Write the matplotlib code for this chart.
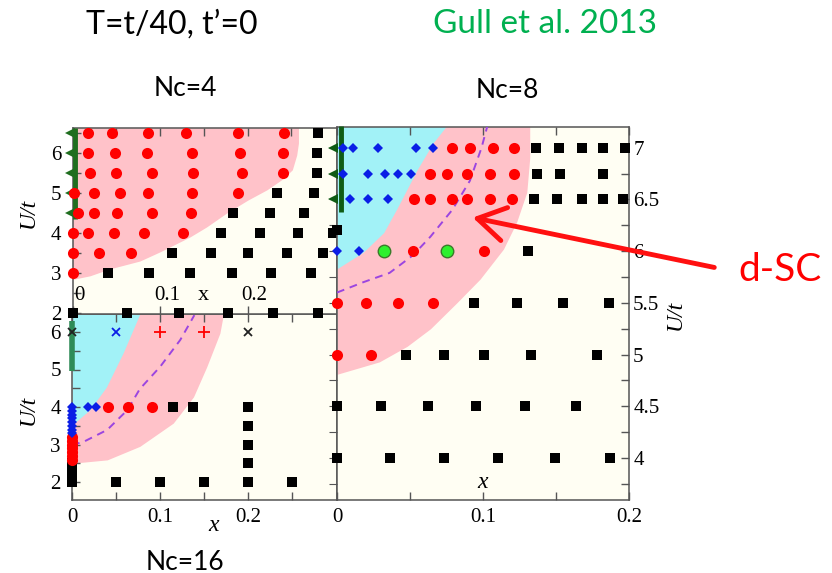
import numpy as np
import matplotlib.pyplot as plt
from matplotlib.patches import FancyArrowPatch
from matplotlib.ticker import MultipleLocator, FixedLocator, FuncFormatter, NullFormatter

W, H = 832, 573

# ---------- Nc=4 (upper left) ----------
nc4_sc_x = [0.018, 0.045, 0.086, 0.130, 0.189, 0.242,
            0.018, 0.048, 0.085, 0.136, 0.191, 0.240,
            0.020, 0.050, 0.091, 0.138, 0.193, 0.240,
            0.002, 0.025, 0.054, 0.086, 0.136, 0.189,
            0.006, 0.024, 0.051, 0.091, 0.135,
            0.0, 0.018, 0.047, 0.082, 0.126,
            0.0, 0.030, 0.067,
            0.0]
nc4_sc_u = [6.5] * 6 + [6.0] * 6 + [5.5] * 6 + [5.0] * 6 + [4.5] * 5 + [4.0] * 5 + [3.5] * 3 + [3.0]
nc4_n_x = [0.280, 0.279, 0.279,
           0.233, 0.276,
           0.183, 0.225, 0.264,
           0.169, 0.214, 0.257, 0.297,
           0.114, 0.158, 0.200, 0.245, 0.286,
           0.041, 0.087, 0.134, 0.182, 0.227, 0.272,
           0.0, 0.062, 0.122, 0.177, 0.229, 0.280]
nc4_n_u = [6.5, 6.0, 5.5] + [5.0] * 2 + [4.5] * 3 + [4.0] * 4 + [3.5] * 5 + [3.0] * 6 + [2.0] * 6
nc4_afm_u = [4.5, 5.0, 5.5, 6.0, 6.5]
nc4_afm_band = (4.35, 6.63)
nc4_sc_edge_x = [0.0, 0.02, 0.042, 0.077, 0.10, 0.134, 0.153, 0.176, 0.20, 0.222, 0.240, 0.251, 0.256, 0.258, 0.258]
nc4_sc_edge_u = [2.84, 2.93, 3.10, 3.30, 3.53, 3.90, 4.15, 4.50, 4.82, 5.08, 5.35, 5.58, 5.95, 6.25, 6.63]
nc4_inner_ticks = [0.0, 0.1, 0.2]

# ---------- Nc=16 (lower left) ----------
nc16_sc_x = [0.041, 0.064, 0.091] + [0.0] * 7
nc16_sc_u = [4.0, 4.0, 4.0, 2.6, 2.7, 2.8, 2.9, 3.0, 3.1, 3.2]
nc16_pg_x = [0.0, 0.018, 0.027] + [0.0] * 7
nc16_pg_u = [4.0, 4.0, 4.0, 3.3, 3.4, 3.5, 3.6, 3.7, 3.8, 3.9]
nc16_n_x = [0.115, 0.138, 0.200, 0.200, 0.200, 0.200, 0.200, 0.05, 0.10, 0.15, 0.25] + [0.0] * 6
nc16_n_u = [4.0, 4.0, 4.0, 3.5, 3.0, 2.5, 2.0, 2.0, 2.0, 2.0, 2.0, 2.0, 2.1, 2.2, 2.3, 2.4, 2.5]
nc16_cross_black_x = [0.0, 0.2]
nc16_cross_blue_x = [0.05]
nc16_plus_red_x = [0.10, 0.15]
nc16_cross_u = 6.0
nc16_afm_band = (4.95, 6.30)
nc16_pg_edge_x = [0.0, 0.02, 0.039, 0.058, 0.077]
nc16_pg_edge_u = [3.52, 3.92, 4.53, 5.44, 6.48]
nc16_sc_edge_x = [0.0, 0.04, 0.077, 0.115, 0.138, 0.153, 0.168, 0.172]
nc16_sc_edge_u = [2.50, 2.59, 2.95, 3.57, 4.27, 5.07, 5.97, 6.48]
nc16_tc_x = [0.0, 0.013, 0.040, 0.063, 0.077, 0.100, 0.123, 0.139]
nc16_tc_u = [2.99, 3.07, 3.39, 3.92, 4.48, 5.07, 5.79, 6.45]

# ---------- Nc=8 (right) ----------
nc8_pg_x = [0.004, 0.011, 0.028, 0.054, 0.066,
            0.004, 0.021, 0.033, 0.042, 0.051,
            0.009, 0.021, 0.035,
            0.0, 0.015]
nc8_pg_u = [7.0] * 5 + [6.75] * 5 + [6.5] * 3 + [6.0] * 2
nc8_sc_x = [0.079, 0.091, 0.107, 0.121,
            0.064, 0.075, 0.089, 0.105, 0.121,
            0.053, 0.064, 0.079, 0.089, 0.105, 0.120,
            0.052, 0.101,
            0.0, 0.020, 0.042, 0.066,
            0.0, 0.023]
nc8_sc_u = [7.0] * 4 + [6.75] * 5 + [6.5] * 6 + [6.0] * 2 + [5.5] * 4 + [5.0] * 2
nc8_mix_x = [0.032, 0.075]
nc8_mix_u = [6.0, 6.0]
nc8_n_x = [0.136, 0.152, 0.168, 0.182, 0.197,
           0.137, 0.153, 0.182,
           0.135, 0.151, 0.168, 0.182, 0.196,
           0.0,
           0.131,
           0.094, 0.123, 0.155, 0.186,
           0.047, 0.073, 0.101, 0.133, 0.178,
           0.0, 0.030, 0.062, 0.095, 0.129, 0.164,
           0.0, 0.036, 0.073, 0.110, 0.149, 0.187]
nc8_n_u = ([7.0] * 5 + [6.75] * 3 + [6.5] * 5 + [6.2] + [6.0] + [5.5] * 4
           + [5.0] * 5 + [4.5] * 6 + [4.0] * 6)
nc8_afm_u = [6.5, 6.75, 7.0]
nc8_afm_band = (6.38, 7.21)
nc8_pg_edge_x = [0.0, 0.018, 0.032, 0.041, 0.055, 0.066, 0.075]
nc8_pg_edge_u = [5.83, 5.99, 6.18, 6.41, 6.79, 7.05, 7.21]
nc8_sc_edge_x = [0.0, 0.029, 0.048, 0.064, 0.082, 0.098, 0.114, 0.123, 0.130, 0.132, 0.132]
nc8_sc_edge_u = [4.81, 4.93, 5.08, 5.25, 5.50, 5.73, 6.02, 6.28, 6.57, 6.90, 7.21]
nc8_tc_x = [0.0, 0.018, 0.036, 0.052, 0.064, 0.079, 0.091, 0.099, 0.103]
nc8_tc_u = [5.60, 5.70, 5.79, 5.96, 6.14, 6.40, 6.68, 7.00, 7.21]

PINK = '#ffc2c9'
CYAN = '#a2f2f7'
CREAM = '#fffef3'
RED = '#ff0000'
BLUE = '#0a1ee6'
SERIF = 'Liberation Serif'
SANS = 'Lato'
TICK_FS = 15


def box(l, t, r, b):
    return [l / W, 1 - b / H, (r - l) / W, (b - t) / H]


def pts(ax, xs, us, **kw):
    ax.plot(xs, us, linestyle='none', clip_on=False, zorder=4, **kw)


def sc_dots(ax, xs, us):
    pts(ax, xs, us, marker='o', ms=8, mfc=RED, mec=RED, mew=0)


def n_squares(ax, xs, us):
    pts(ax, xs, us, marker='s', ms=7, mfc='black', mec='black', mew=0)


def pg_diamonds(ax, xs, us):
    pts(ax, xs, us, marker='D', ms=5.5, mfc=BLUE, mec=BLUE, mew=0)


def afm(ax, us, band, color):
    ax.plot([0.003, 0.003], band, color=color, lw=3.5, solid_capstyle='butt', zorder=3, clip_on=False)
    pts(ax, [-0.003] * len(us), us, marker='<', ms=6.5, mfc=color, mec=color, mew=0)


def style(ax):
    ax.set_facecolor(CREAM)
    for s in ax.spines.values():
        s.set_color('#555555')
        s.set_linewidth(1.1)
    ax.tick_params(which='both', direction='in', colors='#555555', labelcolor='black',
                   labelsize=TICK_FS, width=1, length=6)
    for lab in ax.get_xticklabels() + ax.get_yticklabels():
        lab.set_fontfamily(SERIF)


fig = plt.figure(figsize=(W / 100, H / 100), dpi=100)
fmt = FuncFormatter(lambda v, p: f'{v:g}')

# ---- Nc=16 panel ----
ax16 = fig.add_axes(box(72, 314, 337, 500), zorder=1)
ax16.set_xlim(0, 0.301)
ax16.set_ylim(1.52, 6.48)
ax16.fill_betweenx(nc16_sc_edge_u, 0, nc16_sc_edge_x, color=PINK, lw=0, zorder=1)
ax16.fill_betweenx(nc16_pg_edge_u, 0, nc16_pg_edge_x, color=CYAN, lw=0, zorder=1.5)
ax16.plot(nc16_tc_x, nc16_tc_u, ls=(0, (4, 3)), color='#9b45e0', lw=1.4, zorder=3)
ax16.plot([0.0, 0.0], nc16_afm_band, color='#2e8b57', lw=4, solid_capstyle='butt', zorder=3, clip_on=False)
n_squares(ax16, nc16_n_x, nc16_n_u)
sc_dots(ax16, nc16_sc_x, nc16_sc_u)
pg_diamonds(ax16, nc16_pg_x, nc16_pg_u)
pts(ax16, nc16_cross_black_x, [nc16_cross_u] * 2, marker='x', ms=6, mec='#222222', mew=1.3)
pts(ax16, nc16_cross_blue_x, [nc16_cross_u], marker='x', ms=6, mec=BLUE, mew=1.3)
pts(ax16, nc16_plus_red_x, [nc16_cross_u] * 2, marker='+', ms=9, mec=RED, mew=1.3)
ax16.xaxis.set_major_locator(FixedLocator([0.0, 0.1, 0.2]))
ax16.xaxis.set_minor_locator(FixedLocator([0.05, 0.15, 0.25]))
ax16.xaxis.set_major_formatter(fmt)
ax16.yaxis.set_major_locator(MultipleLocator(1))
ax16.yaxis.set_minor_locator(MultipleLocator(0.5))
ax16.tick_params(axis='x', which='both', top=True, bottom=True)
style(ax16)
ax16.tick_params(axis='x', pad=6)
ax16.tick_params(axis='y', pad=8)
ax16.text(0.533, -0.135, 'x', transform=ax16.transAxes, ha='center', va='center',
          fontsize=17, style='italic', family=SERIF)
ax16.text(-0.166, 0.484, 'U/t', transform=ax16.transAxes, ha='center', va='center',
          rotation=90, fontsize=17, style='italic', family=SERIF)

# ---- Nc=4 panel ----
ax4 = fig.add_axes(box(72.5, 128, 337, 314), zorder=2)
ax4.set_xlim(0, 0.302)
ax4.set_ylim(1.975, 6.625)
ax4.fill_betweenx(nc4_sc_edge_u, 0, nc4_sc_edge_x, color=PINK, lw=0, zorder=1)
afm(ax4, nc4_afm_u, nc4_afm_band, '#1f6e1f')
n_squares(ax4, nc4_n_x, nc4_n_u)
sc_dots(ax4, nc4_sc_x, nc4_sc_u)
ax4.xaxis.set_major_locator(FixedLocator(nc4_inner_ticks))
ax4.xaxis.set_minor_locator(FixedLocator([0.05, 0.15, 0.25]))
ax4.xaxis.set_major_formatter(NullFormatter())
ax4.yaxis.set_major_locator(MultipleLocator(1))
ax4.yaxis.set_minor_locator(MultipleLocator(0.5))
ax4.yaxis.set_major_formatter(fmt)
ax4.tick_params(axis='x', which='minor', top=True, bottom=False)
ax4.tick_params(axis='x', which='major', top=True, bottom=True)
style(ax4)
ax4.tick_params(axis='y', pad=8)
for xv in nc4_inner_ticks:
    ax4.text(xv + 0.008, 0.1, f'{xv:g}', transform=ax4.get_xaxis_transform(),
             ha='center', va='center', fontsize=TICK_FS, family=SERIF)
ax4.text(0.149, 0.1, 'x', transform=ax4.get_xaxis_transform(), ha='center', va='center',
         fontsize=16, family=SERIF)
ax4.text(-0.166, 0.543, 'U/t', transform=ax4.transAxes, ha='center', va='center',
         rotation=90, fontsize=17, style='italic', family=SERIF)

# ---- Nc=8 panel ----
ax8 = fig.add_axes(box(337, 127, 629, 500), zorder=3)
ax8.set_xlim(0, 0.2)
ax8.set_ylim(3.595, 7.2)
ax8.fill_betweenx(nc8_sc_edge_u, 0, nc8_sc_edge_x, color=PINK, lw=0, zorder=1)
ax8.fill_betweenx(nc8_pg_edge_u, 0, nc8_pg_edge_x, color=CYAN, lw=0, zorder=1.5)
ax8.plot(nc8_tc_x, nc8_tc_u, ls=(0, (4, 3)), color='#9b45e0', lw=1.4, zorder=3)
afm(ax8, nc8_afm_u, nc8_afm_band, '#0f5c14')
n_squares(ax8, nc8_n_x, nc8_n_u)
sc_dots(ax8, nc8_sc_x, nc8_sc_u)
pg_diamonds(ax8, nc8_pg_x, nc8_pg_u)
pts(ax8, nc8_mix_x, nc8_mix_u, marker='o', ms=9, mfc='#2ef02e', mec='#3a7a2a', mew=1)
ax8.xaxis.set_major_locator(MultipleLocator(0.1))
ax8.xaxis.set_minor_locator(MultipleLocator(0.05))
ax8.xaxis.set_major_formatter(fmt)
ax8.yaxis.set_major_locator(MultipleLocator(0.5))
ax8.yaxis.set_minor_locator(MultipleLocator(0.25))
ax8.yaxis.set_major_formatter(fmt)
ax8.yaxis.tick_right()
ax8.tick_params(axis='x', which='both', top=True, bottom=True)
ax8.tick_params(axis='y', which='both', left=False, right=True)
style(ax8)
ax8.tick_params(axis='y', pad=3)
ax8.tick_params(axis='x', pad=6)
left8 = ax8.secondary_yaxis('left')
left8.yaxis.set_major_locator(MultipleLocator(0.25))
left8.yaxis.set_major_formatter(NullFormatter())
left8.tick_params(direction='out', length=6, colors='#555555')
left8.spines['left'].set_visible(False)
ax8.text(0.1, 0.046, 'x', transform=ax8.get_xaxis_transform(), ha='center', va='center',
         fontsize=17, style='italic', family=SERIF)
ax8.text(1.158, 0.496, 'U/t', transform=ax8.transAxes, ha='center', va='center',
         rotation=90, fontsize=17, style='italic', family=SERIF)

# ---- headings and annotation ----
fig.text(172 / W, 1 - 25 / H, 'T=t/40, t\u2019=0', ha='center', va='center', fontsize=23, family=SANS)
fig.text(545 / W, 1 - 24 / H, 'Gull et al. 2013', ha='center', va='center', fontsize=24,
         family=SANS, color='#00b050')
fig.text(185 / W, 1 - 89 / H, 'Nc=4', ha='center', va='center', fontsize=19, family=SANS)
fig.text(507 / W, 1 - 90 / H, 'Nc=8', ha='center', va='center', fontsize=19, family=SANS)
fig.text(185 / W, 1 - 562 / H, 'Nc=16', ha='center', va='center', fontsize=19, family=SANS)
fig.text(780 / W, 1 - 270 / H, 'd-SC', ha='center', va='center', fontsize=28, family=SANS, color=RED)
fig.add_artist(FancyArrowPatch(
    (717 / W, 1 - 268 / H), (470 / W, 1 - 217 / H), transform=fig.transFigure,
    arrowstyle='->,head_length=0.9,head_width=0.55', mutation_scale=22,
    color='#ff1010', lw=3.5, zorder=10))

fig.savefig('out.png', dpi=100)
